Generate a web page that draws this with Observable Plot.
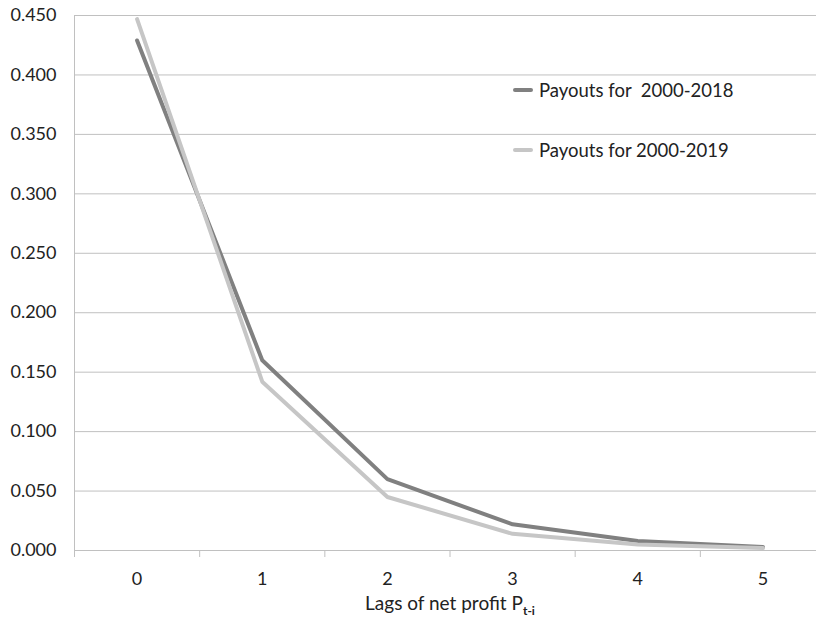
<!DOCTYPE html>
<html><head>
<meta charset="utf-8">
<script src="https://cdn.jsdelivr.net/npm/d3@7"></script>
<script src="https://cdn.jsdelivr.net/npm/@observablehq/plot@0.6"></script>
<style>
body{margin:0;background:#fff;font-family:Lato,"Open Sans",sans-serif;color:#222}
#wrap{position:relative;width:816px;height:619px;overflow:hidden}
#wrap svg{position:absolute;left:0;top:0}
.leg{position:absolute;display:flex;align-items:center;font-size:18.5px;white-space:pre}
.leg span.sw{display:inline-block;width:20px;height:4px;border-radius:2px;margin-right:6px}
#xlabel{position:absolute;top:591px;left:0;width:900px;text-align:center;font-size:19px}
#xlabel sub{font-size:12px;font-weight:bold}
</style>
</head><body>
<div id="wrap"></div>
<script>
const lags = [0, 1, 2, 3, 4, 5];
const payouts2018 = [0.429, 0.160, 0.060, 0.022, 0.008, 0.003];
const payouts2019 = [0.447, 0.142, 0.045, 0.014, 0.005, 0.002];
const seriesNames = ["Payouts for  2000-2018", "Payouts for 2000-2019"];
const seriesColors = ["#808080", "#c6c6c6"];
const yTicks = [0, 0.05, 0.10, 0.15, 0.20, 0.25, 0.30, 0.35, 0.40, 0.45];
const boundaries = [-0.5, 0.5, 1.5, 2.5, 3.5, 4.5, 5.5];

const data = [
  ...lags.map((l, i) => ({lag: l, v: payouts2018[i], s: seriesNames[0]})),
  ...lags.map((l, i) => ({lag: l, v: payouts2019[i], s: seriesNames[1]}))
];

const chart = Plot.plot({
  width: 816, height: 590,
  marginLeft: 74, marginRight: 0, marginTop: 15, marginBottom: 40,
  x: {domain: [-0.5, 5.5], range: [74, 825]},
  y: {domain: [0, 0.45]},
  color: {domain: seriesNames, range: seriesColors},
  style: {fontFamily: "Lato, 'Open Sans', sans-serif", fontSize: "18px", color: "#222", background: "#fff"},
  marks: [
    Plot.gridY(yTicks, {stroke: "#c0c0c0", strokeOpacity: 1}),
    Plot.ruleX([-0.5], {stroke: "#c0c0c0"}),
    Plot.axisY({ticks: yTicks, tickFormat: d3.format(".3f"), tickSize: 0, tickPadding: 18, label: null}),
    Plot.axisX({ticks: boundaries, tickFormat: () => "", tickSize: 7, stroke: "#c0c0c0", label: null}),
    Plot.axisX({ticks: lags, tickFormat: d => String(d), tickSize: 0, tickPadding: 22, label: null}),
    Plot.line(data, {x: "lag", y: "v", z: "s", stroke: "s", strokeWidth: 4})
  ]
});
const wrap = document.getElementById("wrap");
wrap.appendChild(chart);

const legTops = [79, 139];
seriesNames.forEach((n, i) => {
  const d = document.createElement("div");
  d.className = "leg";
  d.style.left = "513px";
  d.style.top = legTops[i] + "px";
  d.innerHTML = `<span class="sw" style="background:${seriesColors[i]}"></span><span></span>`;
  d.lastChild.textContent = n;
  wrap.appendChild(d);
});
const xl = document.createElement("div");
xl.id = "xlabel";
xl.innerHTML = "Lags of net profit P<sub>t-i</sub>";
wrap.appendChild(xl);
</script>
</body></html>
